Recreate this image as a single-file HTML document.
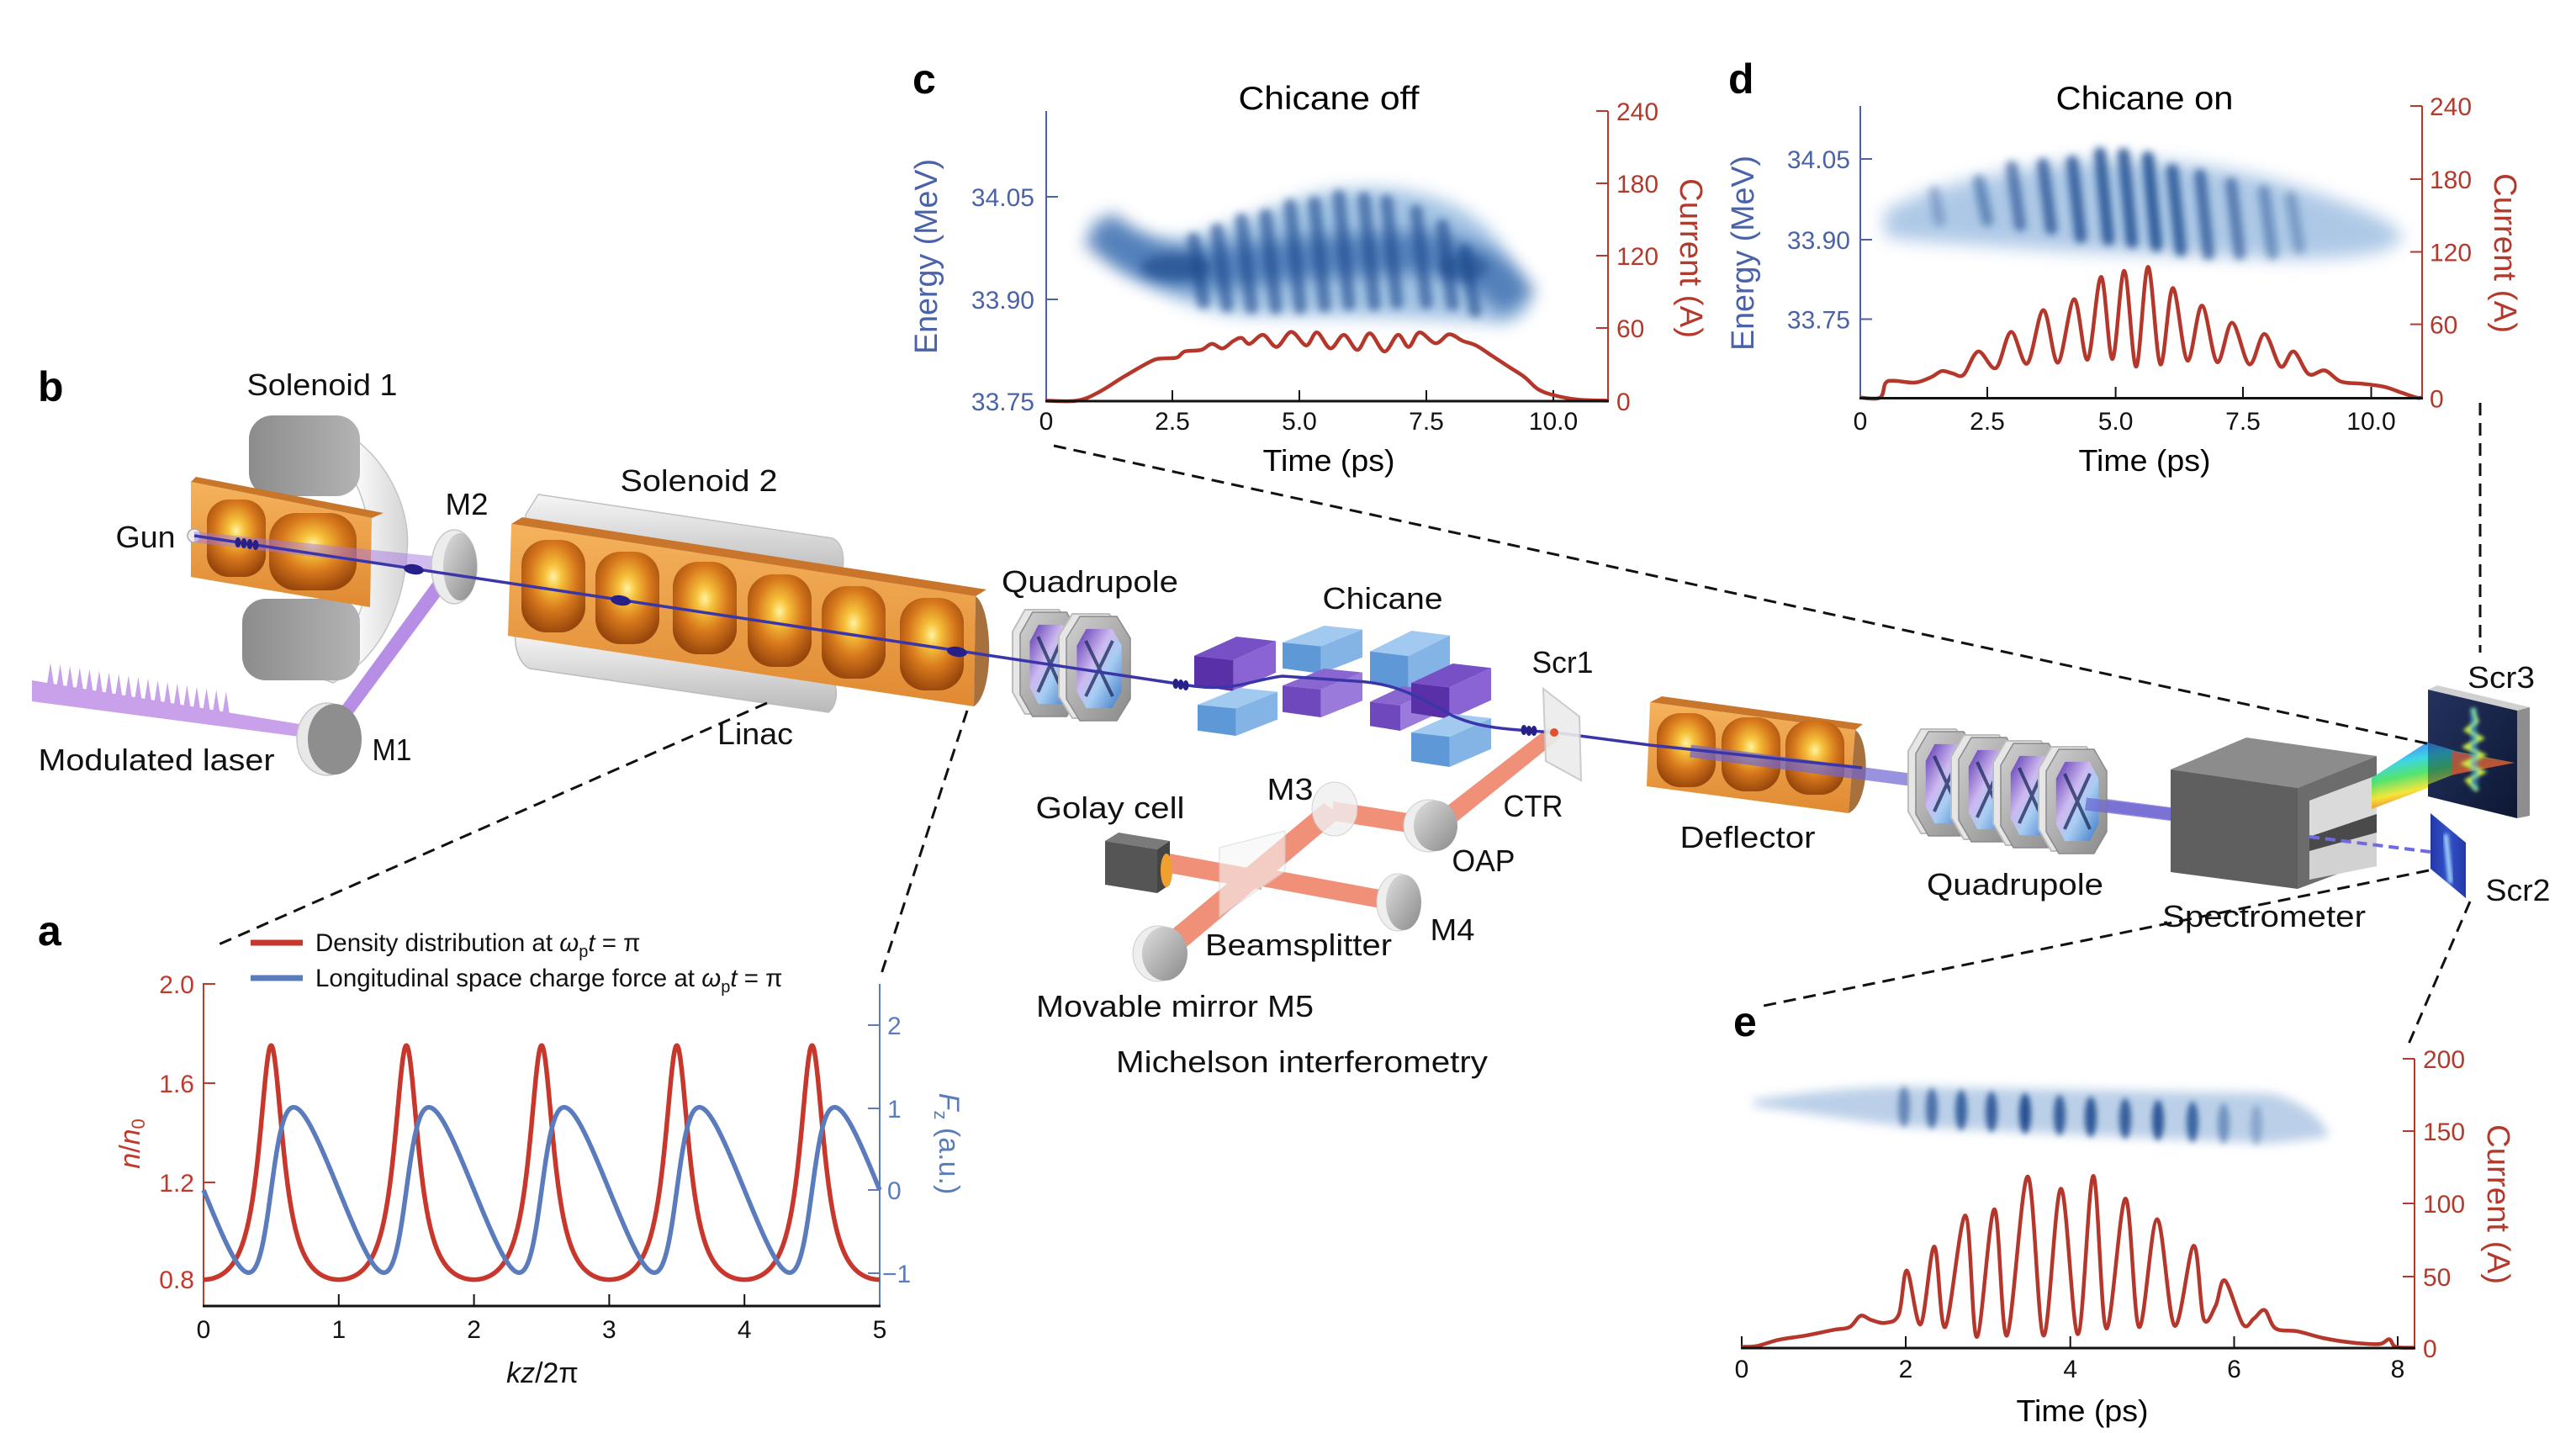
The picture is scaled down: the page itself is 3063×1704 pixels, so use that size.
<!DOCTYPE html>
<html><head><meta charset="utf-8"><title>figure</title>
<style>
html,body{margin:0;padding:0;background:#fff;width:3063px;height:1704px;overflow:hidden}
svg{display:block}
text{font-family:"Liberation Sans",Arial,sans-serif}
</style></head><body>
<svg id="S" xmlns="http://www.w3.org/2000/svg" width="3063" height="1704" viewBox="0 0 3063 1704">
<defs>
<radialGradient id="cell" cx="0.5" cy="0.4" r="0.62">
<stop offset="0" stop-color="#fff3a0"/><stop offset="0.22" stop-color="#f6c03a"/><stop offset="0.58" stop-color="#d7781c"/><stop offset="1" stop-color="#98460c"/>
</radialGradient>
<linearGradient id="obox" x1="0" y1="0" x2="0" y2="1"><stop offset="0" stop-color="#f5b25c"/><stop offset="1" stop-color="#e08a32"/></linearGradient>
<linearGradient id="gblk" x1="0" y1="0" x2="1" y2="0"><stop offset="0" stop-color="#8c8c8c"/><stop offset="1" stop-color="#b3b3b3"/></linearGradient>
<linearGradient id="wring" x1="0" y1="0" x2="1" y2="0"><stop offset="0" stop-color="#cfcfcf"/><stop offset="0.5" stop-color="#f8f8f8"/><stop offset="1" stop-color="#d4d4d4"/></linearGradient>
<linearGradient id="tube" x1="0" y1="0" x2="0" y2="1"><stop offset="0" stop-color="#f6f6f6"/><stop offset="1" stop-color="#b9b9b9"/></linearGradient>
<linearGradient id="gmetal" x1="0" y1="0" x2="1" y2="1"><stop offset="0" stop-color="#d0d0d0"/><stop offset="1" stop-color="#8a8a8a"/></linearGradient>
<linearGradient id="quadin" x1="0" y1="0" x2="1" y2="1"><stop offset="0" stop-color="#5a34b0"/><stop offset="0.4" stop-color="#cdb9f0"/><stop offset="0.6" stop-color="#a8cdf2"/><stop offset="1" stop-color="#3d78c8"/></linearGradient>
<linearGradient id="mirror" x1="0" y1="0" x2="1" y2="1"><stop offset="0" stop-color="#dedede"/><stop offset="1" stop-color="#8a8a8a"/></linearGradient>
<linearGradient id="rainbow" x1="2850" y1="880" x2="2868" y2="965" gradientUnits="userSpaceOnUse">
<stop offset="0" stop-color="#3a5cff"/><stop offset="0.3" stop-color="#28d0e0"/><stop offset="0.5" stop-color="#40e060"/><stop offset="0.72" stop-color="#f2e424"/><stop offset="1" stop-color="#f04020"/>
</linearGradient>
<linearGradient id="scr3" x1="0" y1="0" x2="1" y2="1"><stop offset="0" stop-color="#24325e"/><stop offset="1" stop-color="#0d1734"/></linearGradient>
<linearGradient id="scr2" x1="0" y1="0" x2="1" y2="0"><stop offset="0" stop-color="#2238a8"/><stop offset="0.5" stop-color="#3552c8"/><stop offset="1" stop-color="#2238a8"/></linearGradient>
<filter id="b2" x="-50%" y="-50%" width="200%" height="200%"><feGaussianBlur stdDeviation="2"/></filter>
<filter id="b3" x="-50%" y="-50%" width="200%" height="200%"><feGaussianBlur stdDeviation="3.5"/></filter>
<filter id="b4" x="-50%" y="-50%" width="200%" height="200%"><feGaussianBlur stdDeviation="4.5"/></filter>
<filter id="b6" x="-50%" y="-50%" width="200%" height="200%"><feGaussianBlur stdDeviation="6"/></filter>
<filter id="b10" x="-50%" y="-50%" width="200%" height="200%"><feGaussianBlur stdDeviation="10"/></filter>
</defs>
<rect width="3063" height="1704" fill="#fff"/>

<!-- ===================== DIAGRAM (b) ===================== -->
<polygon points="38,809 362,862 364,877 38,834" fill="#c9a0ea"/>
<path id="spikes" fill="#c9a0ea"/>
<path d="M378,500 C452,522 490,600 484,656 C480,722 452,782 396,812 L380,806 C420,762 440,712 440,656 C440,600 420,545 368,518 Z" fill="url(#wring)" stroke="#c4c4c4" stroke-width="1.5"/>
<rect x="296" y="494" width="132" height="96" rx="28" fill="url(#gblk)"/>
<rect x="288" y="712" width="140" height="97" rx="28" fill="url(#gblk)"/>
<polygon points="227,573 233,567 456,610 442,616" fill="#c8762a"/>
<polygon points="227,573 442,616 440,722 227,686" fill="url(#obox)"/>
<rect x="246" y="594" width="70" height="92" rx="26" fill="url(#cell)"/>
<rect x="320" y="610" width="104" height="92" rx="32" fill="url(#cell)"/>
<circle cx="231" cy="637" r="8" fill="#eeeeee" stroke="#aaaaaa" stroke-width="1.5"/>
<polygon points="231,632 540,664 540,682 231,645" fill="#a678e0" opacity="0.5"/>
<polygon points="402,846 418,851 547,677 531,670" fill="#b78ee6"/>
<ellipse cx="540" cy="674" rx="27" ry="44" fill="#ececec" stroke="#c8c8c8" stroke-width="1.5"/>
<ellipse cx="547" cy="674" rx="20" ry="40" fill="url(#mirror)"/>
<ellipse cx="389" cy="879" rx="36" ry="43" fill="#e8e8e8" stroke="#c8c8c8" stroke-width="1.5"/>
<ellipse cx="398" cy="879" rx="32" ry="42" fill="#8e8e8e"/>
<path d="M625,612 L640,588 L990,640 C1002,646 1006,662 1000,690 L627,640 Z" fill="url(#tube)" stroke="#c0c0c0" stroke-width="1.5"/>
<path d="M613,752 L988,806 C997,815 997,838 985,847 L630,795 C618,790 611,770 613,752 Z" fill="url(#tube)" stroke="#bcbcbc" stroke-width="1.5"/>
<polygon points="608,623 621,615 1173,701 1160,709" fill="#c9762c"/>
<polygon points="608,623 1160,709 1158,840 604,756" fill="url(#obox)"/>
<path d="M1160,709 C1180,722 1184,822 1158,840 Z" fill="#a8703c"/>
<rect x="620" y="642" width="76" height="110" rx="30" fill="url(#cell)"/>
<rect x="708" y="656" width="76" height="110" rx="30" fill="url(#cell)"/>
<rect x="800" y="668" width="76" height="110" rx="30" fill="url(#cell)"/>
<rect x="889" y="683" width="76" height="110" rx="30" fill="url(#cell)"/>
<rect x="977" y="697" width="76" height="110" rx="30" fill="url(#cell)"/>
<rect x="1070" y="711" width="76" height="110" rx="30" fill="url(#cell)"/>

<g id="q1"></g>
<g id="chic"></g>

<g fill="#ee7d62" opacity="0.85">
<polygon points="1841,865 1856,877 1715,991 1698,976"/>
<polygon points="1706,972 1706,995 1585,976 1585,953"/>
<polygon points="1574,955 1596,970 1393,1141 1371,1124"/>
<polygon points="1495,1031 1668,1063 1668,1085 1495,1053"/>
<polygon points="1500,1035 1500,1058 1385,1037 1385,1014"/>
</g>
<polygon points="1314,1000 1330,990 1391,1000 1376,1010" fill="#7a7a7a"/>
<polygon points="1314,1000 1376,1010 1376,1062 1314,1052" fill="#555555"/>
<polygon points="1376,1010 1391,1000 1391,1052 1376,1062" fill="#444444"/>
<ellipse cx="1387" cy="1035" rx="7" ry="20" fill="#f0a030"/>
<ellipse cx="1699" cy="982" rx="30" ry="31" fill="#eeeeee" stroke="#cccccc"/>
<ellipse cx="1707" cy="982" rx="26" ry="30" fill="url(#mirror)"/>
<ellipse cx="1587" cy="962" rx="27" ry="32" fill="#f0f0f0" stroke="#c8c8c8" opacity="0.8"/>
<ellipse cx="1662" cy="1073" rx="25" ry="34" fill="#eeeeee" stroke="#cccccc"/>
<ellipse cx="1669" cy="1073" rx="21" ry="33" fill="url(#mirror)"/>
<ellipse cx="1377" cy="1134" rx="30" ry="33" fill="#eeeeee" stroke="#cccccc"/>
<ellipse cx="1385" cy="1134" rx="27" ry="32" fill="url(#mirror)"/>
<polygon points="1450,1008 1528,988 1528,1036 1450,1090" fill="#f6f6f6" opacity="0.6" stroke="#d8d8d8" stroke-width="1.5"/>

<polygon points="1962,835 1976,828 2215,861 2206,868" fill="#c8762c"/>
<polygon points="1962,835 2206,868 2198,967 1958,935" fill="url(#obox)"/>
<path d="M2206,868 C2224,880 2224,955 2198,967 Z" fill="#a8703c"/>
<rect x="1970" y="848" width="70" height="88" rx="28" fill="url(#cell)"/>
<rect x="2047" y="853" width="70" height="88" rx="28" fill="url(#cell)"/>
<rect x="2123" y="857" width="70" height="88" rx="28" fill="url(#cell)"/>
<line x1="2010" y1="893" x2="2585" y2="968" stroke="#6e66d2" stroke-width="15" opacity="0.7"/>
<g id="q2"></g>
<line x1="2480" y1="956" x2="2585" y2="969" stroke="#6e66d2" stroke-width="15" opacity="0.7"/>

<polygon points="2581,915 2671,877 2826,899 2732,937" fill="#8c8c8c"/>
<polygon points="2581,915 2732,937 2732,1057 2581,1037" fill="#5f5f5f"/>
<polygon points="2732,937 2826,899 2826,1022 2732,1057" fill="#6c6c6c"/>
<polygon points="2746,952 2826,922 2826,968 2746,995" fill="#dadada"/>
<polygon points="2746,995 2826,968 2826,990 2746,1012" fill="#4a4a4a"/>
<polygon points="2746,1012 2826,990 2826,1030 2746,1046" fill="#d2d2d2"/>
<polygon points="2820,925 2890,880 2892,935 2820,962" fill="url(#rainbow)" opacity="0.9"/>
<polygon points="2887,820 2898,815 3008,841 2993,845" fill="#d0d0d0"/>
<polygon points="2993,845 3008,841 3008,970 2993,973" fill="#8e8e8e"/>
<polygon points="2887,820 2993,845 2993,973 2887,947" fill="url(#scr3)"/>
<polygon points="2887,883 2920,893 2990,907 2920,920 2887,933" fill="url(#rainbow)" opacity="0.55"/>
<polygon points="2915,893 2990,907 2915,922" fill="#e04030" opacity="0.7"/>
<g filter="url(#b2)">
<path d="M2940,842 L2945,858 L2933,868 L2950,878 L2932,888 L2952,898 L2931,908 L2952,918 L2934,928 L2946,940" fill="none" stroke="#c8f040" stroke-width="5"/>
<path d="M2941,842 L2943,940" stroke="#40c0f0" stroke-width="8" opacity="0.5"/>
</g>
<line x1="2746" y1="995" x2="2890" y2="1013" stroke="#6f6be0" stroke-width="4" stroke-dasharray="12 7"/>
<polygon points="2890,967 2932,1002 2932,1068 2890,1033" fill="url(#scr2)"/>
<line x1="2908" y1="992" x2="2914" y2="1050" stroke="#a8e0ff" stroke-width="5" filter="url(#b2)"/>

<path d="M231,637 L1200,783 L1420,816 C1470,822 1490,808 1525,804 L1612,810 C1660,812 1690,830 1727,851 C1760,866 1790,867 1848,871 L1962,886 L2214,913" fill="none" stroke="#3a35a8" stroke-width="3.5"/>
<g fill="#262088">
<ellipse cx="283" cy="645" rx="3.5" ry="6"/><ellipse cx="290" cy="646" rx="3.5" ry="6"/><ellipse cx="297" cy="647" rx="3.5" ry="6"/><ellipse cx="304" cy="648" rx="3.5" ry="6"/>
<ellipse cx="492" cy="677" rx="12" ry="6" transform="rotate(8.6 492 677)"/>
<ellipse cx="738" cy="714" rx="12" ry="6" transform="rotate(8.6 738 714)"/>
<ellipse cx="1138" cy="775" rx="12" ry="6" transform="rotate(8.6 1138 775)"/>
<ellipse cx="1398" cy="813" rx="3.5" ry="6"/><ellipse cx="1404" cy="814" rx="3.5" ry="6"/><ellipse cx="1410" cy="815" rx="3.5" ry="6"/>
<ellipse cx="1812" cy="868" rx="3.5" ry="6"/><ellipse cx="1818" cy="869" rx="3.5" ry="6"/><ellipse cx="1824" cy="869" rx="3.5" ry="6"/>
</g>
<polygon points="1835,819 1878,852 1880,928 1838,905" fill="#ececec" stroke="#c6c6c6" stroke-width="2" opacity="0.9"/>
<circle cx="1848" cy="871" r="5" fill="#e05030"/>

<g stroke="#111" stroke-width="3" stroke-dasharray="15 9" fill="none">
<line x1="1253" y1="530" x2="2890" y2="885"/>
<line x1="2949" y1="479" x2="2949" y2="776"/>
<line x1="2888" y1="1035" x2="2092" y2="1197"/>
<line x1="2937" y1="1072" x2="2862" y2="1246"/>
<line x1="912" y1="836" x2="258" y2="1124"/>
<line x1="1150" y1="845" x2="1048" y2="1158"/>
</g>

<g font-size="36" fill="#111" text-anchor="middle">
<text x="383" y="470" textLength="179" lengthAdjust="spacingAndGlyphs">Solenoid 1</text>
<text x="173" y="651" textLength="71" lengthAdjust="spacingAndGlyphs">Gun</text>
<text x="555" y="612" textLength="51" lengthAdjust="spacingAndGlyphs">M2</text>
<text x="831" y="584" textLength="187" lengthAdjust="spacingAndGlyphs">Solenoid 2</text>
<text x="186" y="916" textLength="281" lengthAdjust="spacingAndGlyphs">Modulated laser</text>
<text x="466" y="904" textLength="47" lengthAdjust="spacingAndGlyphs">M1</text>
<text x="898" y="885" textLength="90" lengthAdjust="spacingAndGlyphs">Linac</text>
<text x="1296" y="704" textLength="210" lengthAdjust="spacingAndGlyphs">Quadrupole</text>
<text x="1644" y="724" textLength="143" lengthAdjust="spacingAndGlyphs">Chicane</text>
<text x="1858" y="800" textLength="73" lengthAdjust="spacingAndGlyphs">Scr1</text>
<text x="1320" y="973" textLength="177" lengthAdjust="spacingAndGlyphs">Golay cell</text>
<text x="1534" y="951" textLength="55" lengthAdjust="spacingAndGlyphs">M3</text>
<text x="1823" y="971" textLength="71" lengthAdjust="spacingAndGlyphs">CTR</text>
<text x="1764" y="1036" textLength="75" lengthAdjust="spacingAndGlyphs">OAP</text>
<text x="1727" y="1118" textLength="53" lengthAdjust="spacingAndGlyphs">M4</text>
<text x="1544" y="1136" textLength="222" lengthAdjust="spacingAndGlyphs">Beamsplitter</text>
<text x="1397" y="1209" textLength="330" lengthAdjust="spacingAndGlyphs">Movable mirror M5</text>
<text x="1548" y="1275" textLength="442" lengthAdjust="spacingAndGlyphs">Michelson interferometry</text>
<text x="2078" y="1008" textLength="161" lengthAdjust="spacingAndGlyphs">Deflector</text>
<text x="2396" y="1064" textLength="210" lengthAdjust="spacingAndGlyphs">Quadrupole</text>
<text x="2692" y="1102" textLength="242" lengthAdjust="spacingAndGlyphs">Spectrometer</text>
<text x="2974" y="818" textLength="80" lengthAdjust="spacingAndGlyphs">Scr3</text>
<text x="2994" y="1071" textLength="77" lengthAdjust="spacingAndGlyphs">Scr2</text>
</g>

<g font-size="50" font-weight="bold" fill="#000">
<text x="45" y="1124">a</text>
<text x="45" y="477">b</text>
<text x="1085" y="111">c</text>
<text x="2055" y="111">d</text>
<text x="2061" y="1232">e</text>
</g>

<!-- ===================== PANEL C ===================== -->
<g>
<path d="M1296,258 C1330,272 1360,288 1400,285 C1450,276 1500,250 1560,232 C1620,218 1680,222 1730,245 C1770,265 1800,300 1818,370 L1790,385 C1700,378 1600,375 1500,375 C1430,375 1380,350 1340,322 C1315,302 1300,282 1296,258 Z" fill="#9dbfe2" opacity="0.95" filter="url(#b10)"/>
<path d="M1305,270 C1340,303 1380,320 1430,320 L1560,306 L1690,300 C1750,305 1785,330 1805,362" fill="none" stroke="#3f6fb0" stroke-width="50" opacity="0.8" filter="url(#b10)"/>
<g id="cstreaks" stroke="#1d4a8e" stroke-width="15" stroke-linecap="round" opacity="0.6" filter="url(#b4)"></g>
<ellipse cx="1398" cy="318" rx="42" ry="16" fill="#1f4a8a" opacity="0.65" filter="url(#b6)"/>
<ellipse cx="1740" cy="318" rx="30" ry="16" fill="#1f4a8a" opacity="0.55" filter="url(#b6)"/>
</g>
<g stroke-width="2" fill="none">
<line x1="1244" y1="132" x2="1244" y2="477" stroke="#4a62a8"/>
<line x1="1244" y1="234" x2="1258" y2="234" stroke="#4a62a8"/>
<line x1="1244" y1="356" x2="1258" y2="356" stroke="#4a62a8"/>
<line x1="1912" y1="132" x2="1912" y2="477" stroke="#b23a2c"/>
<line x1="1898" y1="132" x2="1912" y2="132" stroke="#b23a2c"/>
<line x1="1898" y1="218" x2="1912" y2="218" stroke="#b23a2c"/>
<line x1="1898" y1="304" x2="1912" y2="304" stroke="#b23a2c"/>
<line x1="1898" y1="390" x2="1912" y2="390" stroke="#b23a2c"/>
<g stroke="#111"><line x1="1394" y1="464" x2="1394" y2="477"/><line x1="1545" y1="464" x2="1545" y2="477"/><line x1="1696" y1="464" x2="1696" y2="477"/><line x1="1847" y1="464" x2="1847" y2="477"/></g>
</g>
<path id="tc" fill="none" stroke="#b5372b" stroke-width="4.5" stroke-linejoin="round"/>
<line x1="1243" y1="477" x2="1913" y2="477" stroke="#111" stroke-width="3"/>
<g font-size="30">
<g fill="#4a62a8" text-anchor="end"><text x="1230" y="245">34.05</text><text x="1230" y="367">33.90</text><text x="1230" y="488">33.75</text></g>
<g fill="#b23a2c"><text x="1922" y="143">240</text><text x="1922" y="229">180</text><text x="1922" y="315">120</text><text x="1922" y="401">60</text><text x="1922" y="488">0</text></g>
<g fill="#111" text-anchor="middle"><text x="1244" y="511">0</text><text x="1394" y="511">2.5</text><text x="1545" y="511">5.0</text><text x="1696" y="511">7.5</text><text x="1847" y="511">10.0</text></g>
</g>
<text x="1580" y="130" font-size="39" text-anchor="middle" textLength="215" lengthAdjust="spacingAndGlyphs">Chicane off</text>
<text x="1580" y="560" font-size="36" text-anchor="middle" textLength="157" lengthAdjust="spacingAndGlyphs">Time (ps)</text>
<text transform="translate(1101,305) rotate(-90)" x="0" y="13" font-size="38" fill="#4a62a8" text-anchor="middle" textLength="232" lengthAdjust="spacingAndGlyphs">Energy (MeV)</text>
<text transform="translate(2011,307) rotate(90)" x="0" y="13" font-size="38" fill="#b23a2c" text-anchor="middle" textLength="190" lengthAdjust="spacingAndGlyphs">Current (A)</text>

<!-- ===================== PANEL D ===================== -->
<g>
<path d="M2240,252 C2280,228 2350,208 2450,194 C2550,184 2650,196 2740,225 C2800,245 2850,262 2856,282 C2850,302 2790,308 2720,308 L2450,298 C2350,290 2280,288 2242,282 Z" fill="#a5c3e4" opacity="0.9" filter="url(#b10)"/>
<g id="dstreaks" stroke="#1c4a8e" stroke-width="14" stroke-linecap="round" filter="url(#b4)"></g>
</g>
<g stroke-width="2" fill="none">
<line x1="2212" y1="126" x2="2212" y2="474" stroke="#4a62a8"/>
<line x1="2212" y1="189" x2="2226" y2="189" stroke="#4a62a8"/>
<line x1="2212" y1="285" x2="2226" y2="285" stroke="#4a62a8"/>
<line x1="2212" y1="379.5" x2="2226" y2="379.5" stroke="#4a62a8"/>
<line x1="2880" y1="126" x2="2880" y2="474" stroke="#b23a2c"/>
<line x1="2866" y1="126" x2="2880" y2="126" stroke="#b23a2c"/>
<line x1="2866" y1="213" x2="2880" y2="213" stroke="#b23a2c"/>
<line x1="2866" y1="299.5" x2="2880" y2="299.5" stroke="#b23a2c"/>
<line x1="2866" y1="385.6" x2="2880" y2="385.6" stroke="#b23a2c"/>
<g stroke="#111"><line x1="2363" y1="460" x2="2363" y2="474"/><line x1="2515.6" y1="460" x2="2515.6" y2="474"/><line x1="2667" y1="460" x2="2667" y2="474"/><line x1="2819.5" y1="460" x2="2819.5" y2="474"/></g>
</g>
<path id="td" fill="none" stroke="#b5372b" stroke-width="4.5" stroke-linejoin="round"/>
<line x1="2211" y1="473.5" x2="2881" y2="473.5" stroke="#111" stroke-width="3"/>
<g font-size="30">
<g fill="#4a62a8" text-anchor="end"><text x="2200" y="200">34.05</text><text x="2200" y="296">33.90</text><text x="2200" y="390.5">33.75</text></g>
<g fill="#b23a2c"><text x="2889" y="137">240</text><text x="2889" y="224">180</text><text x="2889" y="310.5">120</text><text x="2889" y="396.6">60</text><text x="2889" y="484.5">0</text></g>
<g fill="#111" text-anchor="middle"><text x="2212" y="511">0</text><text x="2363" y="511">2.5</text><text x="2515.6" y="511">5.0</text><text x="2667" y="511">7.5</text><text x="2819.5" y="511">10.0</text></g>
</g>
<text x="2550" y="130" font-size="39" text-anchor="middle" textLength="211" lengthAdjust="spacingAndGlyphs">Chicane on</text>
<text x="2550" y="560" font-size="36" text-anchor="middle" textLength="157" lengthAdjust="spacingAndGlyphs">Time (ps)</text>
<text transform="translate(2072,301) rotate(-90)" x="0" y="13" font-size="38" fill="#4a62a8" text-anchor="middle" textLength="232" lengthAdjust="spacingAndGlyphs">Energy (MeV)</text>
<text transform="translate(2979,301) rotate(90)" x="0" y="13" font-size="38" fill="#b23a2c" text-anchor="middle" textLength="190" lengthAdjust="spacingAndGlyphs">Current (A)</text>

<!-- ===================== PANEL E ===================== -->
<g>
<path d="M2085,1308 C2150,1298 2220,1292 2270,1292 L2700,1300 C2740,1310 2768,1335 2768,1352 L2700,1360 L2270,1340 C2200,1332 2140,1322 2085,1315 Z" fill="#b4cbe6" opacity="0.9" filter="url(#b6)"/>
<g id="estreaks" fill="#1d4a8e" filter="url(#b3)"></g>
</g>
<g stroke-width="2" fill="none">
<line x1="2871" y1="1259" x2="2871" y2="1603" stroke="#b23a2c"/>
<line x1="2857" y1="1259" x2="2871" y2="1259" stroke="#b23a2c"/>
<line x1="2857" y1="1345" x2="2871" y2="1345" stroke="#b23a2c"/>
<line x1="2857" y1="1431" x2="2871" y2="1431" stroke="#b23a2c"/>
<line x1="2857" y1="1518" x2="2871" y2="1518" stroke="#b23a2c"/>
<g stroke="#111"><line x1="2071" y1="1589" x2="2071" y2="1603"/><line x1="2266" y1="1589" x2="2266" y2="1603"/><line x1="2461.7" y1="1589" x2="2461.7" y2="1603"/><line x1="2656.5" y1="1589" x2="2656.5" y2="1603"/><line x1="2851" y1="1589" x2="2851" y2="1603"/></g>
</g>
<path id="te" fill="none" stroke="#b5372b" stroke-width="4.5" stroke-linejoin="round"/>
<line x1="2070" y1="1603" x2="2872" y2="1603" stroke="#111" stroke-width="3"/>
<g font-size="30">
<g fill="#b23a2c"><text x="2881" y="1270">200</text><text x="2881" y="1356">150</text><text x="2881" y="1442">100</text><text x="2881" y="1529">50</text><text x="2881" y="1614">0</text></g>
<g fill="#111" text-anchor="middle"><text x="2071" y="1638">0</text><text x="2266" y="1638">2</text><text x="2461.7" y="1638">4</text><text x="2656.5" y="1638">6</text><text x="2851" y="1638">8</text></g>
</g>
<text x="2476" y="1690" font-size="36" text-anchor="middle" textLength="157" lengthAdjust="spacingAndGlyphs">Time (ps)</text>
<text transform="translate(2971,1432) rotate(90)" x="0" y="13" font-size="38" fill="#b23a2c" text-anchor="middle" textLength="190" lengthAdjust="spacingAndGlyphs">Current (A)</text>

<!-- ===================== PANEL A ===================== -->
<g stroke-width="2" fill="none">
<line x1="242" y1="1169" x2="242" y2="1553" stroke="#c0392b"/>
<line x1="242" y1="1170" x2="256" y2="1170" stroke="#c0392b"/>
<line x1="242" y1="1288" x2="256" y2="1288" stroke="#c0392b"/>
<line x1="242" y1="1406" x2="256" y2="1406" stroke="#c0392b"/>
<line x1="242" y1="1521" x2="256" y2="1521" stroke="#c0392b"/>
<line x1="1046" y1="1170" x2="1046" y2="1553" stroke="#5b7cbc"/>
<line x1="1032" y1="1219" x2="1046" y2="1219" stroke="#5b7cbc"/>
<line x1="1032" y1="1318" x2="1046" y2="1318" stroke="#5b7cbc"/>
<line x1="1032" y1="1415" x2="1046" y2="1415" stroke="#5b7cbc"/>
<line x1="1032" y1="1514" x2="1046" y2="1514" stroke="#5b7cbc"/>
<g stroke="#111"><line x1="402.8" y1="1539" x2="402.8" y2="1553"/><line x1="563.6" y1="1539" x2="563.6" y2="1553"/><line x1="724.4" y1="1539" x2="724.4" y2="1553"/><line x1="885.2" y1="1539" x2="885.2" y2="1553"/></g>
</g>
<path id="ared" fill="none" stroke="#c7372b" stroke-width="5.5" stroke-linejoin="round"/>
<path id="ablue" fill="none" stroke="#5b7cbc" stroke-width="5.5" stroke-linejoin="round"/>
<line x1="241" y1="1553" x2="1047" y2="1553" stroke="#111" stroke-width="3"/>
<line x1="298" y1="1121" x2="360" y2="1121" stroke="#c7372b" stroke-width="7"/>
<line x1="298" y1="1163" x2="360" y2="1163" stroke="#5b7cbc" stroke-width="7"/>
<text x="375" y="1131" font-size="29.5" fill="#111">Density distribution at <tspan font-style="italic">ω</tspan><tspan font-size="20" dy="7">p</tspan><tspan font-style="italic" dy="-7">t</tspan> = π</text>
<text x="375" y="1173" font-size="29.5" fill="#111">Longitudinal space charge force at <tspan font-style="italic">ω</tspan><tspan font-size="20" dy="7">p</tspan><tspan font-style="italic" dy="-7">t</tspan> = π</text>
<g font-size="30">
<g fill="#c0392b" text-anchor="end"><text x="231" y="1181">2.0</text><text x="231" y="1299">1.6</text><text x="231" y="1417">1.2</text><text x="231" y="1532">0.8</text></g>
<g fill="#5b7cbc"><text x="1055" y="1230">2</text><text x="1055" y="1329">1</text><text x="1055" y="1426">0</text><text x="1049" y="1525">−1</text></g>
<g fill="#111" text-anchor="middle"><text x="242" y="1591">0</text><text x="402.8" y="1591">1</text><text x="563.6" y="1591">2</text><text x="724.4" y="1591">3</text><text x="885.2" y="1591">4</text><text x="1046" y="1591">5</text></g>
</g>
<text x="645" y="1644" font-size="34" text-anchor="middle" fill="#111"><tspan font-style="italic">kz</tspan>/2π</text>
<text transform="translate(154,1360) rotate(-90)" x="0" y="12" font-size="34" fill="#c0392b" text-anchor="middle"><tspan font-style="italic">n</tspan>/<tspan font-style="italic">n</tspan><tspan font-size="22" dy="6">0</tspan></text>
<text transform="translate(1129,1360) rotate(90)" x="0" y="12" font-size="34" fill="#5b7cbc" text-anchor="middle"><tspan font-style="italic">F</tspan><tspan font-size="22" dy="6">z</tspan><tspan dy="-6"> (a.u.)</tspan></text>
</svg>
<script>
(function(){
var NS="http://www.w3.org/2000/svg";
function el(p,t,a){var e=document.createElementNS(NS,t);for(var k in a)e.setAttribute(k,a[k]);p.appendChild(e);return e;}
function $(id){return document.getElementById(id);}
function cr(p){var d="M"+p[0][0]+","+p[0][1];for(var i=0;i<p.length-1;i++){var a=p[i-1]||p[i],b=p[i],c=p[i+1],e=p[i+2]||c;
d+=" C"+(b[0]+(c[0]-a[0])/6).toFixed(1)+","+(b[1]+(c[1]-a[1])/6).toFixed(1)+" "+(c[0]-(e[0]-b[0])/6).toFixed(1)+","+(c[1]-(e[1]-b[1])/6).toFixed(1)+" "+c[0]+","+c[1];}return d;}
function pr(s){return s.trim().split(/\s+/).map(function(q){var v=q.split(",");return [+v[0],+v[1]];});}

var sd="";for(var i=0;i<19;i++){var bx=56+i*11.6;var y0=809+0.1636*(bx-38),y1=809+0.1636*(bx+8-38);
sd+="M"+bx.toFixed(1)+","+(y0+1).toFixed(1)+" L"+(bx+4).toFixed(1)+","+(y0-24).toFixed(1)+" L"+(bx+8).toFixed(1)+","+(y1+1).toFixed(1)+" Z ";}
$("spikes").setAttribute("d",sd);

function oct(cx,cy,a,b){var ca=a*0.42,cb=b*0.42;return [[cx-a+ca,cy-b],[cx+a-ca,cy-b],[cx+a,cy-b+cb],[cx+a,cy+b-cb],[cx+a-ca,cy+b],[cx-a+ca,cy+b],[cx-a,cy+b-cb],[cx-a,cy-b+cb]].map(function(p){return p[0].toFixed(1)+","+p[1].toFixed(1);}).join(" ");}
function ring(g,cx,cy,a,b){
el(g,"polygon",{points:oct(cx-9,cy-3,a,b),fill:"#e6e6e6",stroke:"#bdbdbd","stroke-width":2});
el(g,"polygon",{points:oct(cx,cy,a,b),fill:"url(#gmetal)",stroke:"#8a8a8a","stroke-width":1.5});
el(g,"polygon",{points:oct(cx+1,cy,a*0.7,b*0.76),fill:"url(#quadin)"});
var ia=a*0.7,ib=b*0.76;
el(g,"path",{d:"M"+(cx+1-ia*0.6)+","+(cy-ib*0.7)+" L"+(cx+1+ia*0.6)+","+(cy+ib*0.7)+" M"+(cx+1+ia*0.6)+","+(cy-ib*0.7)+" L"+(cx+1-ia*0.6)+","+(cy+ib*0.7),stroke:"#1c2a5a","stroke-width":4,opacity:0.75});
}
var q1=$("q1");ring(q1,1248,790,35,62);ring(q1,1306,795,38,62);
var q2=$("q2");[[2314,932],[2365,939],[2415,946],[2469,953]].forEach(function(c){ring(q2,c[0],c[1],36,62);});

function box(g,x0,y0,x1,y1,cf,ct,cs){var w=x1-x0,h=y1-y0;
var A=[x0,y0+0.35*h],B=[x0+0.52*w,y0],C=[x1,y0+0.08*h],D=[x0+0.48*w,y0+0.43*h],E=[x0+0.48*w,y1],F=[x0,y1-0.11*h],G=[x1,y0+0.66*h];
function pts(a){return a.map(function(p){return p[0].toFixed(1)+","+p[1].toFixed(1);}).join(" ");}
el(g,"polygon",{points:pts([A,B,C,D]),fill:ct});
el(g,"polygon",{points:pts([A,D,E,F]),fill:cf});
el(g,"polygon",{points:pts([D,C,G,E]),fill:cs});}
var P=["#5a30a8","#7850c6","#8b64d4"],Bl=["#5f98d6","#a2c9f0","#84b4e6"],P2=["#6e48bc","#8a66d0","#9a7ada"];
var ch=$("chic");
box(ch,1525,744,1620,801,Bl[0],Bl[1],Bl[2]);
box(ch,1629,750,1724,820,Bl[0],Bl[1],Bl[2]);
box(ch,1420,757,1517,822,P[0],P[1],P[2]);
box(ch,1525,795,1620,853,P2[0],P2[1],P2[2]);
box(ch,1629,816,1704,869,P2[0],P2[1],P2[2]);
box(ch,1424,818,1519,875,Bl[0],Bl[1],Bl[2]);
box(ch,1678,789,1773,855,P[0],P[1],P[2]);
box(ch,1678,849,1773,912,Bl[0],Bl[1],Bl[2]);

var cs=$("cstreaks");
[[1419,278,360],[1447,267,364],[1476,255,366],[1505,250,366],[1534,238,366],[1563,235,364],[1592,227,362],[1622,230,362],[1649,233,360],[1684,245,360],[1715,262,362],[1742,292,370]].forEach(function(s){
el(cs,"line",{x1:s[0],y1:s[1]+6,x2:s[0]+12,y2:s[2]});});
var ds=$("dstreaks");
var dd=[[2353,210,267,.5],[2392,193,273,.62],[2429,190,277,.72],[2464,187,287,.78],[2497,177,290,.82],[2525,178,293,.82],[2554,182,297,.85],[2583,197,303,.8],[2616,203,307,.7],[2653,213,307,.6],[2692,222,307,.45],[2724,230,300,.35]];
dd.forEach(function(s){el(ds,"line",{x1:s[0],y1:s[1]+5,x2:s[0]+10,y2:s[2]-5,opacity:s[3]});});
el(ds,"line",{x1:2300,y1:228,x2:2306,y2:262,opacity:0.3});
var es=$("estreaks");
var ex=[2264,2297,2332,2368,2408,2449,2486,2527,2566,2607,2644,2683],eo=[.55,.7,.8,.85,.95,.85,.9,.85,.9,.8,.45,.3];
ex.forEach(function(x,i){el(es,"ellipse",{cx:x,cy:1316+i*2,rx:7,ry:24,opacity:eo[i]});});

$("tc").setAttribute("d",cr(pr("1243.6,476.4 1280.8,476.4 1306.4,466.4 1338.5,446.6 1370.5,428.7 1383.3,426.2 1399.4,425.1 1409,417.9 1428.2,416.1 1441,408.9 1453.8,414.3 1466.7,405.3 1476.3,401.8 1485.9,408.9 1501.9,398.2 1518,412.5 1535.3,394.6 1553.2,410.7 1566,395.3 1582,414.3 1598,398.2 1614.1,416.1 1628.8,396.4 1646.2,417.9 1662.2,398.2 1675,412.5 1687.8,395.3 1707,408.2 1723.1,397.5 1739.1,405.3 1755.1,410.7 1774.4,423.3 1793.6,435.9 1812.8,448.4 1828.8,462.8 1848.1,470 1876.9,475.3 1912.2,476.4")));
$("td").setAttribute("d",cr(pr("2211.8,472.8 2235.5,472.8 2241.9,455.6 2251.5,452.7 2277.2,454.9 2296.4,448.4 2309.2,441.2 2322,444.1 2334.9,445.6 2352.2,417.9 2373.3,437.6 2391.3,394.6 2410.5,432.3 2429.7,368.7 2447,431.2 2466.3,355.8 2482.3,427.6 2498.3,329.3 2511.8,426.9 2525.9,322.1 2540,435.9 2554.1,317.4 2568.8,433.3 2583.6,342.5 2600.9,428.7 2618.2,363.4 2636.2,430.5 2654.1,383.8 2674.6,433.3 2692.6,397.1 2711.8,435.9 2727.2,417.9 2745.1,444.8 2764.4,440.5 2783.6,453.8 2809.2,456.3 2834.9,459.9 2854.1,466.4 2873.3,472.8 2879.7,472.8")));
$("te").setAttribute("d",cr(pr("2070.8,1601.6 2089,1600.6 2114.9,1593.2 2147.4,1588.1 2179.9,1581.4 2199.4,1578 2212.3,1564.6 2225.3,1569.7 2241.6,1573 2257.8,1562.9 2267.5,1510.9 2283.8,1574.7 2300,1482.3 2313,1578 2337,1445.4 2350.6,1589.8 2371.4,1438 2386.4,1588.1 2411,1399 2429.9,1588.1 2450.6,1413.5 2470.8,1586.4 2489,1398.3 2504.5,1579.7 2527.3,1425.2 2543.5,1578 2564.9,1449.7 2585.7,1576.4 2608.4,1481.3 2620.1,1568 2634.4,1552.9 2645.5,1522.6 2666.9,1574.7 2679.9,1568 2692.9,1557.9 2705.8,1579.7 2731.8,1583.1 2764.3,1591.5 2796.8,1596.5 2829.2,1598.2 2840.9,1592.5 2848.7,1601.6 2871.4,1602.6")));

var dr="",db="";
for(var i=0;i<=2500;i++){var x=i/500;var psi=2*Math.PI*(x-0.5);psi-=2*Math.PI*Math.round(psi/(2*Math.PI));
var g=0.2/(1-0.8*Math.cos(psi));var n=0.8+0.95*(g-1/9)/(8/9);
var e=(2/3)*Math.atan(3*Math.tan(psi/2))-psi/3;var F=e/0.349066;
var px=242+x*160.8,yr=1170+(2.0-n)*293,yb=1415-F*98.3;
dr+=(i?"L":"M")+px.toFixed(1)+","+yr.toFixed(1);db+=(i?"L":"M")+px.toFixed(1)+","+yb.toFixed(1);}
$("ared").setAttribute("d",dr);$("ablue").setAttribute("d",db);
})();
</script>
</body></html>
